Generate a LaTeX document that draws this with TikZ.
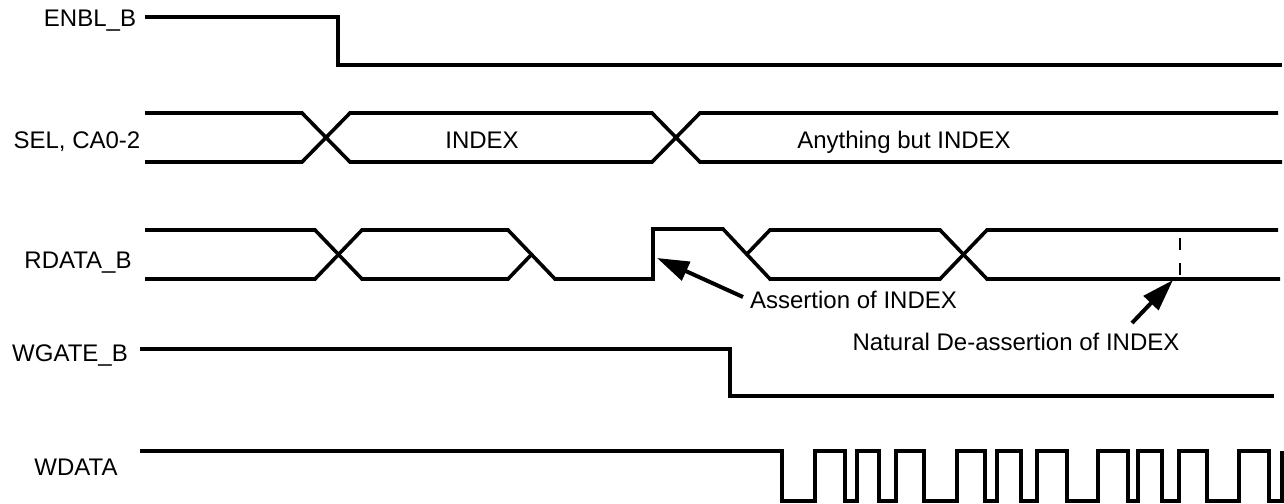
\documentclass[tikz,border=0pt]{standalone}
\usepackage{fontspec}
\setmainfont{Liberation Sans}
\usetikzlibrary{arrows.meta}
\tikzset{
  wave/.style={line width=3.6pt, line join=miter},
  lbl/.style={inner sep=0pt, anchor=base, font=\fontsize{24}{28}\selectfont},
  pointer/.style={line width=4pt, -{Triangle[length=32pt,width=20pt]}},
  markline/.style={line width=2.8pt, dash pattern=on 12pt off 13pt}
}
\begin{document}
\begin{tikzpicture}[x=1pt,y=-1pt]
\useasboundingbox (0,0) rectangle (1284,503);
% signal names
\node[lbl] (nenbl)  at (90,26.6)  {ENBL\_B};
\node[lbl] (nsel)   at (77,148.6) {SEL, CA0-2};
\node[lbl] (nrdata) at (78,268.6) {RDATA\_B};
\node[lbl] (nwgate) at (70,361)   {WGATE\_B};
\node[lbl] (nwdata) at (76,475)   {WDATA};
% bus labels
\node[lbl] (nindex) at (482,148.6) {INDEX};
\node[lbl] (nany)   at (904,148.6) {Anything but INDEX};
% annotations
\node[lbl] (nasrt)  at (853.5,308.6) {Assertion of INDEX};
\node[lbl] (ndeas)  at (1016,350.6)  {Natural De-assertion of INDEX};
% ENBL_B
\draw[wave] (145,17) -- (338,17) -- (338,65) -- (1282,65);
% SEL, CA0-2
\draw[wave] (145,113) -- (302,113) -- (350,162) -- (652,162) -- (700,113) -- (1278,113);
\draw[wave] (145,162) -- (302,162) -- (350,113) -- (652,113) -- (700,162) -- (1282,162);
% RDATA_B
\draw[wave] (145,230) -- (315,230) -- (362,279) -- (508,279) -- (531.5,254.5);
\draw[wave] (145,279) -- (315,279) -- (362,230) -- (508,230) -- (555,279) -- (653,279)
  -- (653,229) -- (723,229) -- (770,279) -- (940,279) -- (987,230) -- (1278,230);
\draw[wave] (746.5,254.5) -- (770,230) -- (940,230) -- (987,279) -- (1280,279);
\draw[markline] (1180,238) -- (1180,279);
% WGATE_B
\draw[wave] (140,349) -- (730,349) -- (730,396) -- (1274,396);
% WDATA
\draw[wave] (140,451) -- (782,451)
  -- (782,501) -- (815,501) -- (815,451) -- (845,451) -- (845,501) -- (857,501)
  -- (857,451) -- (879,451) -- (879,501) -- (896,501) -- (896,451) -- (924,451)
  -- (924,501) -- (957,501) -- (957,451) -- (985,451) -- (985,501) -- (997,501)
  -- (997,451) -- (1021,451) -- (1021,501) -- (1037,501) -- (1037,451) -- (1067,451)
  -- (1067,501) -- (1098,501) -- (1098,451) -- (1128,451) -- (1128,501) -- (1138,501)
  -- (1138,451) -- (1162,451) -- (1162,501) -- (1179,501) -- (1179,451) -- (1207,451)
  -- (1207,501) -- (1239,501) -- (1239,451) -- (1269,451) -- (1269,501) -- (1282,501)
  -- (1282,451);
% arrows
\coordinate (asrttail) at (743,297);
\coordinate (asrttip)  at (657,258);
\coordinate (deastail) at (1132,323);
\coordinate (deastip)  at (1173,280);
\draw[pointer] (asrttail) -- (asrttip);
\draw[pointer] (deastail) -- (deastip);
\end{tikzpicture}
\end{document}
